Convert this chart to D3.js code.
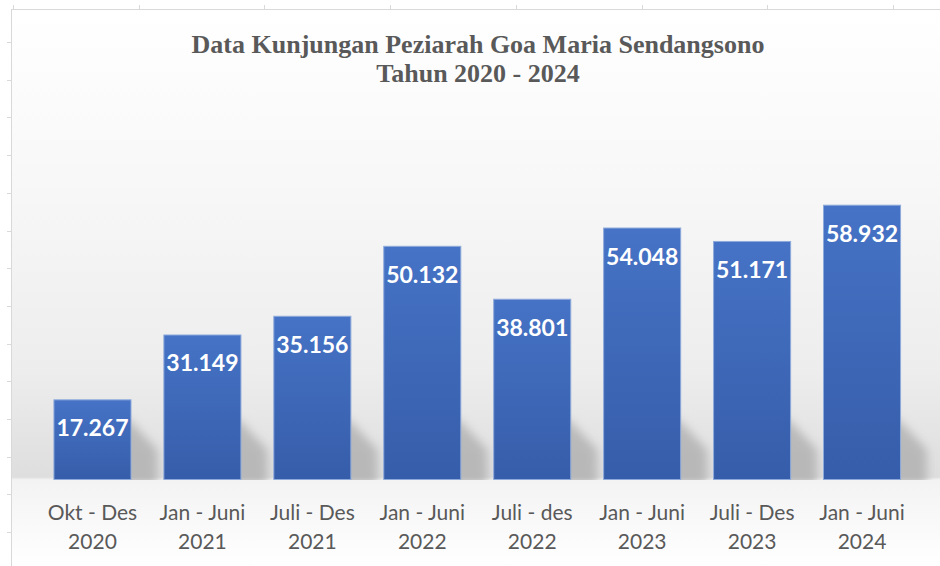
<!DOCTYPE html>
<html>
<head>
    <script src="https://cdnjs.cloudflare.com/ajax/libs/d3/7.8.5/d3.min.js"></script>
    <style>
        body { margin: 0; background: #ffffff; }
        svg { display: block; }
    </style>
</head>
<body>
    <div id="chart"></div>

    <script>
        // Data
        const periods = ["Okt - Des", "Jan - Juni", "Juli - Des", "Jan - Juni", "Juli - des", "Jan - Juni", "Juli - Des", "Jan - Juni"];
        const years = ["2020", "2021", "2021", "2022", "2022", "2023", "2023", "2024"];
        const visitors = [17267, 31149, 35156, 50132, 38801, 54048, 51171, 58932];
        const titleLines = ["Data Kunjungan Peziarah Goa Maria Sendangsono", "Tahun 2020 - 2024"];

        const width = 940, height = 566;
        const baseline = 480;

        const svg = d3.select("#chart").append("svg")
            .attr("width", width)
            .attr("height", height);

        const defs = svg.append("defs");

        // chart background gradient
        const bg = defs.append("linearGradient").attr("id", "bgGrad")
            .attr("x1", 0).attr("y1", 0).attr("x2", 0).attr("y2", 1);
        bg.append("stop").attr("offset", "0%").attr("stop-color", "#ffffff");
        bg.append("stop").attr("offset", "30%").attr("stop-color", "#f8f8f8");
        bg.append("stop").attr("offset", "65%").attr("stop-color", "#ededed");
        bg.append("stop").attr("offset", "84%").attr("stop-color", "#dedede");
        bg.append("stop").attr("offset", "84.5%").attr("stop-color", "#f3f3f3");
        bg.append("stop").attr("offset", "100%").attr("stop-color", "#ffffff");

        const barGrad = defs.append("linearGradient").attr("id", "barGrad")
            .attr("x1", 0).attr("y1", 0).attr("x2", 0).attr("y2", 1);
        barGrad.append("stop").attr("offset", "0%").attr("stop-color", "#4673c6");
        barGrad.append("stop").attr("offset", "100%").attr("stop-color", "#365da9");

        defs.append("filter").attr("id", "blur")
            .attr("x", "-50%").attr("y", "-50%").attr("width", "200%").attr("height", "200%")
            .append("feGaussianBlur").attr("stdDeviation", 5);

        defs.append("clipPath").attr("id", "floorClip")
            .append("rect").attr("x", 0).attr("y", 0).attr("width", width).attr("height", baseline);

        // sheet gridline remnants
        const sheet = svg.append("g").attr("stroke", "#d9d9d9").attr("stroke-width", 1);
        sheet.append("line").attr("x1", 11.5).attr("x2", 11.5).attr("y1", 9).attr("y2", height);
        sheet.append("line").attr("x1", 11).attr("x2", width).attr("y1", 9.5).attr("y2", 9.5);
        d3.range(0, 15).forEach(i => {
            const y = 42 + i * 37.7;
            if (y < height) sheet.append("line").attr("x1", 7).attr("x2", 11).attr("y1", Math.round(y) + 0.5).attr("y2", Math.round(y) + 0.5);
        });
        d3.range(0, 8).forEach(i => {
            const x = 13 + i * 125.7;
            sheet.append("line").attr("x1", Math.round(x) + 0.5).attr("x2", Math.round(x) + 0.5).attr("y1", 5).attr("y2", 9);
        });

        // chart area
        svg.append("rect")
            .attr("x", 12).attr("y", 10)
            .attr("width", width - 12).attr("height", height - 10)
            .attr("fill", "url(#bgGrad)");

        const x = d3.scaleBand()
            .domain(d3.range(visitors.length))
            .range([37.5, 917])
            .paddingInner(0.29)
            .paddingOuter(0.145);

        const y = d3.scaleLinear()
            .domain([0, 70000])
            .range([baseline, 153]);

        // bar shadows
        svg.append("g")
            .attr("clip-path", "url(#floorClip)")
            .selectAll("polygon")
            .data(visitors)
            .join("polygon")
            .attr("points", (d, i) => {
                const x0 = x(i), x1 = x(i) + x.bandwidth();
                const top = Math.max(y(d), baseline - 62);
                return [
                    [x0 + 20, baseline + 5],
                    [x1 - 4, top],
                    [x1 + 26, baseline - 30],
                    [x1 + 26, baseline + 5]
                ].map(p => p.join(",")).join(" ");
            })
            .attr("fill", "#a8a8a8")
            .attr("opacity", 0.7)
            .attr("filter", "url(#blur)");

        // bars
        svg.append("g")
            .selectAll("rect")
            .data(visitors)
            .join("rect")
            .attr("x", (d, i) => x(i) + 0.5)
            .attr("y", d => y(d) + 0.5)
            .attr("width", x.bandwidth() - 1)
            .attr("height", d => baseline - y(d) - 1)
            .attr("fill", "url(#barGrad)")
            .attr("stroke", "#8eaadb")
            .attr("stroke-width", 1);

        // value labels
        svg.append("g")
            .selectAll("text")
            .data(visitors)
            .join("text")
            .attr("x", (d, i) => x(i) + x.bandwidth() / 2)
            .attr("y", d => y(d) + 37)
            .attr("text-anchor", "middle")
            .attr("fill", "#ffffff")
            .attr("font-family", "Lato, 'Open Sans', sans-serif")
            .attr("font-weight", "bold")
            .attr("font-size", "23px")
            .text(d => d3.format(",")(d).replace(/,/g, "."));

        // category labels
        const cat = svg.append("g")
            .attr("font-family", "Lato, 'Open Sans', sans-serif")
            .attr("font-size", "21px")
            .attr("fill", "#595959")
            .attr("text-anchor", "middle");
        cat.selectAll("text.p")
            .data(periods)
            .join("text").attr("class", "p")
            .attr("x", (d, i) => x(i) + x.bandwidth() / 2)
            .attr("y", 520)
            .text(d => d);
        cat.selectAll("text.yr")
            .data(years)
            .join("text").attr("class", "yr")
            .attr("x", (d, i) => x(i) + x.bandwidth() / 2)
            .attr("y", 549)
            .text(d => d);

        // title
        svg.append("g")
            .selectAll("text")
            .data(titleLines)
            .join("text")
            .attr("x", 478)
            .attr("y", (d, i) => 53 + i * 29)
            .attr("text-anchor", "middle")
            .attr("font-family", "'Liberation Serif', 'Times New Roman', serif")
            .attr("font-weight", "bold")
            .attr("font-size", "26px")
            .attr("fill", "#595959")
            .text(d => d);
    </script>
</body>
</html>
